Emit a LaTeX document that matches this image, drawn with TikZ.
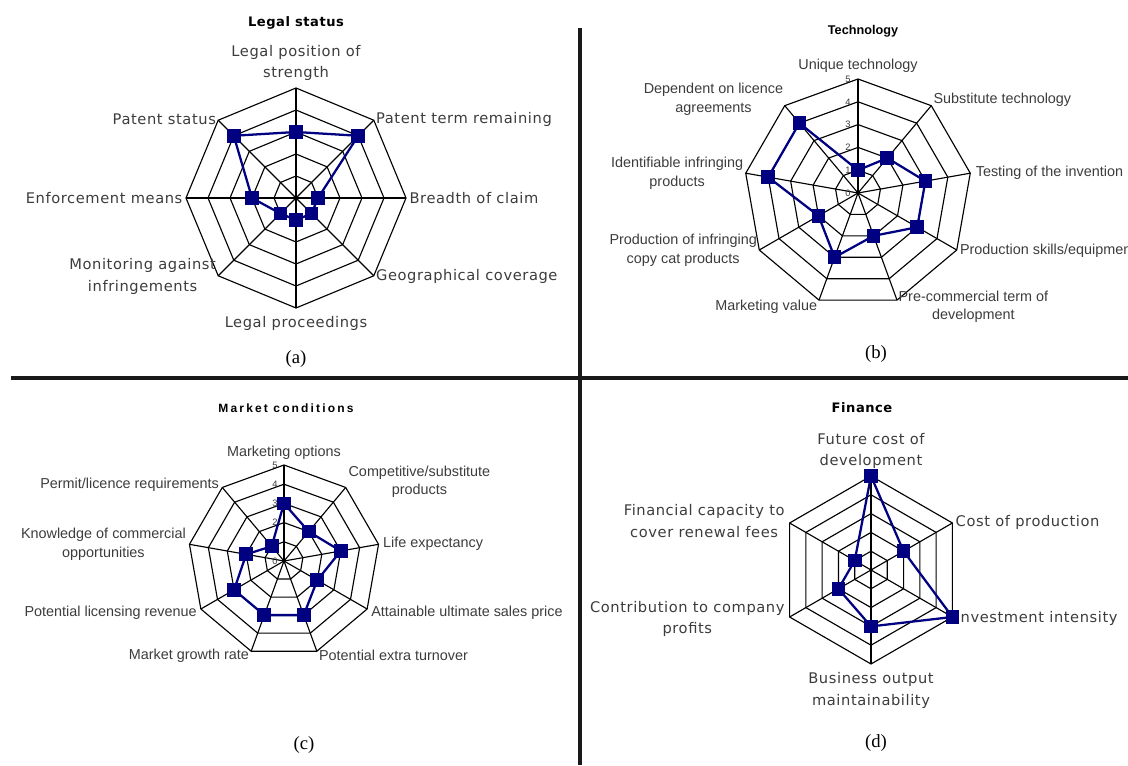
\documentclass[tikz,border=0pt]{standalone}
\usepackage{fontspec}
\setmainfont{Liberation Serif}
\newfontfamily\vera[LetterSpace=4]{DejaVu Sans}
\newfontfamily\arial{Liberation Sans}
\newfontfamily\arialwide[LetterSpace=18]{Liberation Sans}
\usepackage{tikz}
\usetikzlibrary{plotmarks}
\definecolor{navy}{RGB}{0,0,128}
\definecolor{labgray}{RGB}{60,60,60}
\definecolor{rulegray}{RGB}{25,25,25}

\tikzset{
  web/.style={line width=0.85pt, black},
  datline/.style={line width=1.7pt, navy, mark=square*, mark size=4.3pt,
    mark options={fill=navy, draw=navy, solid}},
  lbla/.style={font=\vera\fontsize{11}{16}\selectfont, text=labgray, inner sep=1pt, align=center},
  lblb/.style={font=\arial\fontsize{10.8}{14}\selectfont, text=labgray, inner sep=1pt, align=center},
  ttla/.style={font=\vera\fontsize{9.8}{12}\selectfont\bfseries, inner sep=1pt},
  ttlb/.style={font=\arialwide\fontsize{9}{11}\selectfont\bfseries, inner sep=1pt},
  ttlc/.style={font=\arial\fontsize{9.5}{11}\selectfont\bfseries, inner sep=1pt},
  ticklab/.style={font=\arial\fontsize{7}{8}\selectfont, text=labgray, inner sep=0pt},
  capt/.style={font=\fontsize{14}{16}\selectfont, inner sep=1pt},
  divider/.style={line width=2.3pt, rulegray}
}

\begin{document}
\begin{tikzpicture}[x=0.75pt, y=0.75pt]
  \useasboundingbox (0,0) rectangle (1128,765);

  \draw[divider] (11,387) -- (1128,387); %HORIZONTAL
  \draw[divider] (580,737) -- (580,0); %VERTICAL

  % (a) LEGAL STATUS
  \begin{scope}[shift={(296,567)}]
    \foreach \r in {22,44,...,110}
      \draw[web] (90:\r) \foreach \a in {45,0,...,-225} {-- (\a:\r)} -- cycle; %RINGS
    \foreach \a in {90,45,...,-225}
      \draw[web] (0,0) -- (\a:110); %SPOKES
    \node[ttla] (ta) at (0,175) {Legal status};
    \node[lbla, anchor=south] (a1) at (90:116) {Legal position of\\strength};
    \node[lbla, anchor=west] (a2) at (45:111) {Patent term remaining};
    \node[lbla, anchor=west] (a3) at (0:112) {Breadth of claim};
    \node[lbla, anchor=west] (a4) at (-45:111) {Geographical coverage};
    \node[lbla, anchor=north] (a5) at (-90:117) {Legal proceedings};
    \node[lbla, anchor=east] (a6) at (-135:111) {Monitoring against\\infringements};
    \node[lbla, anchor=east] (a7) at (180:112) {Enforcement means};
    \node[lbla, anchor=east] (a8) at (135:111) {Patent status};
    \draw[datline] plot coordinates {(90:66) (45:88) (0:22) (-45:22) (-90:22)
      (-135:22) (180:44) (135:88)} -- cycle; %DATA
    \node[capt] (capa) at (0,-161) {(a)};
  \end{scope}

  % (b) TECHNOLOGY
  \begin{scope}[shift={(858,572)}]
    \foreach \r in {22.8,45.6,68.4,91.2,114}
      \draw[web] (90:\r) \foreach \a in {50,10,...,-230} {-- (\a:\r)} -- cycle; %RINGS
    \foreach \a in {90,50,...,-230}
      \draw[web] (0,0) -- (\a:114); %SPOKES
    \foreach \k in {0,...,5}
      \node[ticklab] (tb\k) at (-10,\k*22.8) {\k};
    \node[ttlc] (tb) at (5,162) {Technology};
    \node[lblb, anchor=south] (b1) at (90:119) {Unique technology};
    \node[lblb, anchor=west, yshift=4] (b2) at (50:115) {Substitute technology};
    \node[lblb, anchor=west] (b3) at (10:118) {Testing of the invention};
    \node[lblb, anchor=west] (b4) at (-30:116) {Production skills/equipment};
    \node[lblb, anchor=west, yshift=-5] (b5) at (-70:114) {Pre-commercial term of\\development};
    \node[lblb, anchor=east, yshift=-4] (b6) at (-110:115) {Marketing value};
    \node[lblb, anchor=east] (b7) at (-150:115) {Production of infringing\\copy cat products};
    \node[lblb, anchor=east] (b8) at (170:115) {Identifiable infringing\\products};
    \node[lblb, anchor=east, yshift=5] (b9) at (130:114) {Dependent on licence\\agreements};
    \draw[datline] plot coordinates {(90:22.8) (50:45.6) (10:68.4) (-30:68.4)
      (-70:45.6) (-110:68.4) (-150:45.6) (170:91.2) (130:91.2)} -- cycle; %DATA
    \node[capt] (capb) at (18,-161) {(b)};
  \end{scope}

  % (c) MARKET CONDITIONS
  \begin{scope}[shift={(284,204)}]
    \foreach \r in {19.2,38.4,57.6,76.8,96}
      \draw[web] (90:\r) \foreach \a in {50,10,...,-230} {-- (\a:\r)} -- cycle; %RINGS
    \foreach \a in {90,50,...,-230}
      \draw[web] (0,0) -- (\a:96); %SPOKES
    \foreach \k in {0,...,5}
      \node[ticklab] (tc\k) at (-9,\k*19.2) {\k};
    \node[ttlb] (tc) at (2,153) {Market conditions};
    \node[lblb, anchor=south] (c1) at (90:100) {Marketing options};
    \node[lblb, anchor=west, yshift=3] (c2) at (50:98) {Competitive/substitute\\products};
    \node[lblb, anchor=west] (c3) at (10:99) {Life expectancy};
    \node[lblb, anchor=west, yshift=-2] (c4) at (-30:99) {Attainable ultimate sales price};
    \node[lblb, anchor=west, yshift=-2] (c5) at (-70:98) {Potential extra turnover};
    \node[lblb, anchor=east, yshift=-2] (c6) at (-110:98) {Market growth rate};
    \node[lblb, anchor=east, yshift=-2] (c7) at (-150:99) {Potential licensing revenue};
    \node[lblb, anchor=east] (c8) at (170:98) {Knowledge of commercial\\opportunities};
    \node[lblb, anchor=east] (c9) at (130:99) {Permit/licence requirements};
    \draw[datline] plot coordinates {(90:57.6) (50:38.4) (10:57.6) (-30:38.4)
      (-70:57.6) (-110:57.6) (-150:57.6) (170:38.4) (130:19.2)} -- cycle; %DATA
    \node[capt] (capc) at (20,-184) {(c)};
  \end{scope}

  % (d) FINANCE
  \begin{scope}[shift={(871,195)}]
    \foreach \r in {18.8,37.6,56.4,75.2,94}
      \draw[web] (90:\r) \foreach \a in {30,-30,...,-210} {-- (\a:\r)} -- cycle; %RINGS
    \foreach \a in {90,30,...,-210}
      \draw[web] (0,0) -- (\a:94); %SPOKES
    \node[ttla] (td) at (-9,162) {Finance};
    \node[lbla, anchor=south] (d1) at (90:100) {Future cost of\\development};
    \node[lbla, anchor=west] (d2) at (30:96) {Cost of production};
    \node[lbla, anchor=west] (d3) at (-30:96) {Investment intensity};
    \node[lbla, anchor=north] (d4) at (-90:101) {Business output\\maintainability};
    \node[lbla, anchor=east] (d5) at (-150:98) {Contribution to company\\profits};
    \node[lbla, anchor=east] (d6) at (150:98) {Financial capacity to\\cover renewal fees};
    \draw[datline] plot coordinates {(90:94) (30:37.6) (-30:94) (-90:56.4)
      (-150:37.6) (150:18.8)} -- cycle; %DATA
    \node[capt] (capd) at (5,-173) {(d)};
  \end{scope}

\end{tikzpicture}
\end{document}
